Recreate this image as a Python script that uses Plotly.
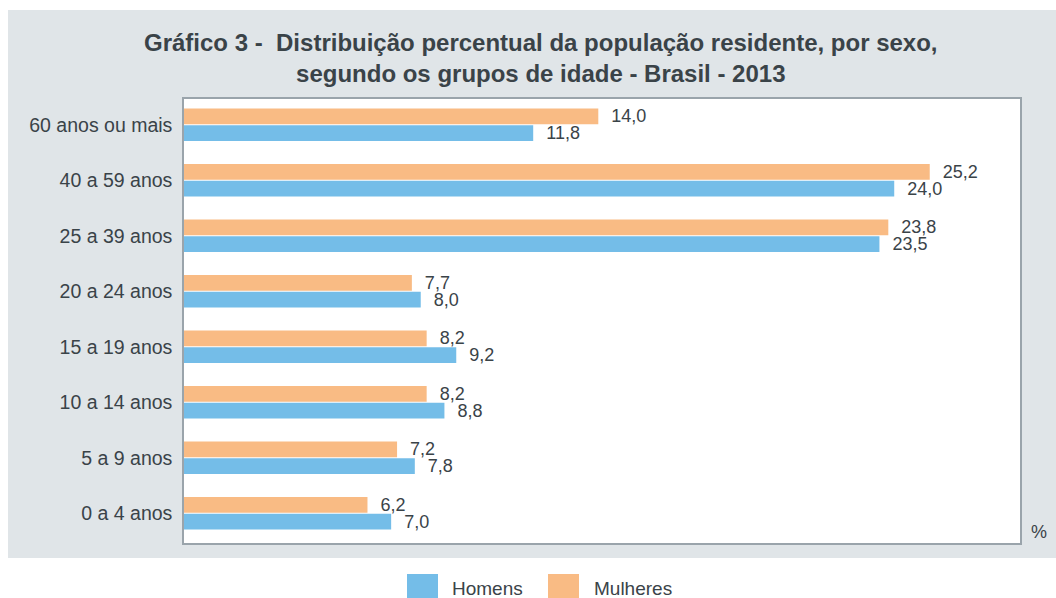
import plotly.graph_objects as go

categorias = ["0 a 4 anos", "5 a 9 anos", "10 a 14 anos", "15 a 19 anos",
              "20 a 24 anos", "25 a 39 anos", "40 a 59 anos", "60 anos ou mais"]
homens = [7.0, 7.8, 8.8, 9.2, 8.0, 23.5, 24.0, 11.8]
mulheres = [6.2, 7.2, 8.2, 8.2, 7.7, 23.8, 25.2, 14.0]

AZUL = "#74bde8"
LARANJA = "#f9bb84"
TEXTO = "#3a4348"
FONTE = "Liberation Sans"

fig = go.Figure()
for nome, valores, cor in [("Homens", homens, AZUL), ("Mulheres", mulheres, LARANJA)]:
    fig.add_trace(go.Bar(y=categorias, x=valores, orientation="h", name=nome,
                         marker=dict(color=cor, line=dict(width=0)),
                         texttemplate="  %{x:.1f}", textposition="outside",
                         constraintext="none",
                         textfont=dict(size=18, color=TEXTO, family=FONTE),
                         cliponaxis=False, showlegend=False))

W, H = 1056, 598
L, R, T, B = 184, 36, 99, 55
pw, ph = W - L - R, H - T - B

def px(x):
    return (x - L) / pw

def py(y):
    return (H - B - y) / ph

shapes = [
    dict(type="rect", xref="paper", yref="paper", x0=px(8), x1=px(1060), y0=py(558), y1=py(10),
         fillcolor="#e0e5e8", line=dict(width=0), layer="below"),
    dict(type="rect", xref="paper", yref="paper", x0=0, x1=1, y0=0, y1=1,
         fillcolor="white", line=dict(width=0), layer="below"),
    dict(type="rect", xref="paper", yref="paper", x0=px(407), x1=px(438), y0=py(599), y1=py(574),
         fillcolor=AZUL, line=dict(width=0)),
    dict(type="rect", xref="paper", yref="paper", x0=px(548), x1=px(579), y0=py(599), y1=py(574),
         fillcolor=LARANJA, line=dict(width=0)),
]

annotations = [
    dict(text="<b>Gráfico 3 -  Distribuição percentual da população residente, por sexo,</b><br><b>segundo os grupos de idade - Brasil - 2013</b>",
         xref="paper", yref="paper", x=px(541), y=py(58), xanchor="center", yanchor="middle",
         showarrow=False, align="center", font=dict(size=24, color=TEXTO, family=FONTE)),
    dict(text="%", xref="paper", yref="paper", x=px(1039), y=py(532), xanchor="center", yanchor="middle",
         showarrow=False, font=dict(size=18, color=TEXTO, family=FONTE)),
    dict(text="Homens", xref="paper", yref="paper", x=px(450), y=py(588), xanchor="left", yanchor="middle",
         showarrow=False, font=dict(size=19, color=TEXTO, family=FONTE)),
    dict(text="Mulheres", xref="paper", yref="paper", x=px(592), y=py(588), xanchor="left", yanchor="middle",
         showarrow=False, font=dict(size=19, color=TEXTO, family=FONTE)),
]

fig.update_layout(
    width=W, height=H,
    margin=dict(l=L, r=R, t=T, b=B, pad=0),
    paper_bgcolor="white", plot_bgcolor="white",
    barmode="group", bargap=0.4, bargroupgap=0.06,
    separators=",.",
    showlegend=False,
    shapes=shapes, annotations=annotations,
    font=dict(family=FONTE, color=TEXTO, size=18),
    xaxis=dict(range=[0, 28.25], showticklabels=False, ticks="", showgrid=False, zeroline=False,
               showline=True, mirror=True, linecolor="#9aa4ab", linewidth=1.5, fixedrange=True),
    yaxis=dict(categoryorder="array", categoryarray=categorias, range=[-0.536, 7.464],
               showgrid=False, zeroline=False,
               showline=True, mirror=True, linecolor="#9aa4ab", linewidth=1.5,
               ticks="outside", ticklen=6, tickcolor="rgba(0,0,0,0)",
               tickfont=dict(size=19.5, color=TEXTO, family=FONTE), fixedrange=True),
)

fig.write_html("out.html", config={"displayModeBar": False},
               post_script="document.body.style.margin='0';document.body.style.overflow='hidden';")
